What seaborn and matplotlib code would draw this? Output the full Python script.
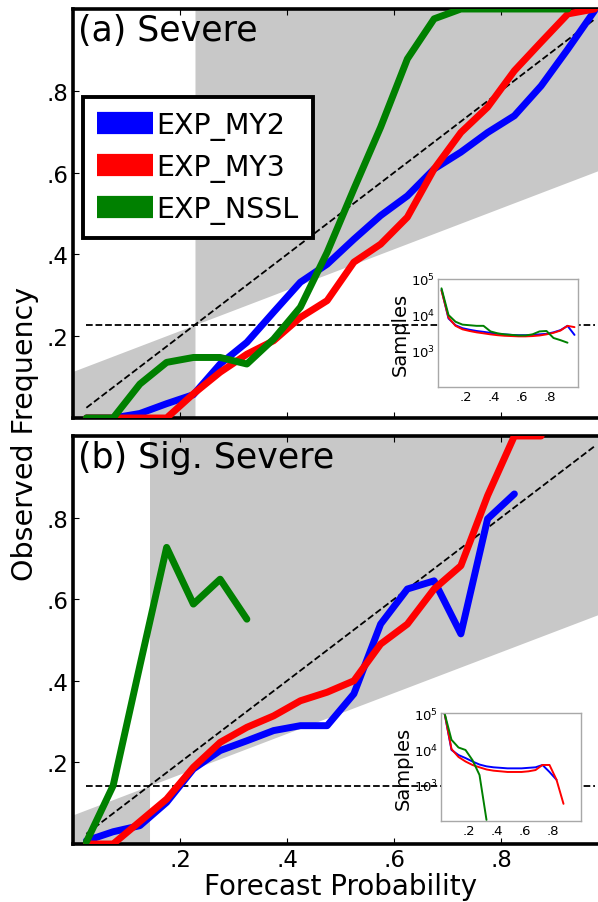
import matplotlib
matplotlib.use("Agg")
import matplotlib.pyplot as plt
import seaborn as sns
import pandas as pd
import numpy as np

# forecast probability bin centres
prob = [0.025, 0.075, 0.125, 0.175, 0.225, 0.275, 0.325, 0.375, 0.425, 0.475,
        0.525, 0.575, 0.625, 0.675, 0.725, 0.775, 0.825, 0.875, 0.925, 0.975]

exp_names = ['EXP_MY2', 'EXP_MY3', 'EXP_NSSL']
exp_colors = ['#0000ff', '#ff0000', '#008000']

# (a) Severe - observed frequency
sev_my2 = [0.0, 0.0, 0.011, 0.035, 0.057, 0.132, 0.185, 0.259, 0.332, 0.376,
           0.437, 0.495, 0.543, 0.609, 0.65, 0.698, 0.739, 0.812, 0.902, 0.996]
sev_my3 = [0.0, 0.0, 0.0, 0.0, 0.059, 0.112, 0.156, 0.189, 0.246, 0.287,
           0.381, 0.425, 0.491, 0.609, 0.698, 0.76, 0.849, 0.919, 0.988, 1.0]
sev_nssl = [0.0, 0.0, 0.083, 0.136, 0.148, 0.148, 0.132, 0.193, 0.271, 0.405,
            0.56, 0.711, 0.878, 0.976, 1.0, 1.0, 1.0, 1.0, 1.0]
sev_clim = 0.228

# (a) Severe - sample counts
sev_n_my2 = [50000, 8000, 5200, 4300, 3900, 3600, 3400, 3200, 3000, 2900,
             2800, 2750, 2750, 2800, 2900, 3000, 3300, 3800, 5000, 2800]
sev_n_my3 = [48000, 8500, 5000, 4000, 3600, 3300, 3100, 2900, 2750, 2650,
             2600, 2550, 2550, 2600, 2700, 2900, 3200, 3700, 5000, 4600]
sev_n_nssl = [55000, 10000, 6500, 5400, 5200, 5000, 5000, 3500, 3100, 2900,
              2800, 2700, 2700, 2900, 3500, 3600, 2300, 2000, 1700]

# (b) Sig. Severe - observed frequency
sig_my2 = [0.008, 0.03, 0.045, 0.102, 0.184, 0.229, 0.253, 0.278, 0.29, 0.29,
           0.368, 0.539, 0.625, 0.645, 0.515, 0.797, 0.858]
sig_my3 = [0.0, 0.0, 0.055, 0.110, 0.188, 0.249, 0.286, 0.314, 0.351, 0.372,
           0.40, 0.49, 0.539, 0.625, 0.682, 0.854, 1.0, 1.0]
sig_nssl = [0.005, 0.143, 0.437, 0.727, 0.588, 0.649, 0.551]
sig_clim = 0.143

# (b) Sig. Severe - sample counts
sig_n_my2 = [100000, 9400, 6800, 5600, 4500, 3700, 3300, 3100, 3000, 2900,
             2900, 2900, 3000, 3100, 3600, 2300, 1400]
sig_n_my3 = [100000, 10000, 6000, 4500, 3600, 3100, 2700, 2500, 2400, 2300,
             2300, 2300, 2400, 2600, 3600, 3600, 1400, 300]
sig_n_nssl = [100000, 18000, 11000, 9400, 4900, 1900, 107]

xticks = [0.2, 0.4, 0.6, 0.8]
xticklabels = ['.2', '.4', '.6', '.8']


def long_df(series, col):
    rows = []
    for name, vals in zip(exp_names, series):
        for p, v in zip(prob, vals):
            rows.append((name, p, v))
    return pd.DataFrame(rows, columns=['exp', 'prob', col])


sns.set_style('ticks')
plt.rcParams['font.family'] = ['DejaVu Sans']
plt.rcParams['mathtext.default'] = 'regular'
plt.rcParams['text.color'] = 'black'
plt.rcParams['axes.labelcolor'] = 'black'
plt.rcParams['xtick.color'] = 'black'
plt.rcParams['ytick.color'] = 'black'

fig = plt.figure(figsize=(5.98, 9.03), dpi=100)


def panel(rect, title, clim, rel, counts, inset_rect, show_legend, show_xlabels):
    ax = fig.add_axes(rect)
    # skill region shading
    xl = np.array([0, clim])
    xr = np.array([clim, 1])
    ax.fill_between(xl, 0, (xl + clim) / 2, color='#c8c8c8', lw=0, zorder=0)
    ax.fill_between(xr, (xr + clim) / 2, 1, color='#c8c8c8', lw=0, zorder=0)
    # perfect reliability and climatology
    ax.plot([0.025, 0.975], [0.025, 0.975], ls='--', color='black', lw=1.3, zorder=1)
    ax.plot([0.025, 0.975], [clim, clim], ls='--', color='black', lw=1.3, zorder=1)

    df = long_df(rel, 'freq')
    sns.lineplot(data=df, x='prob', y='freq', hue='exp', hue_order=exp_names,
                 palette=exp_colors, lw=5, ax=ax, legend=show_legend,
                 estimator=None, sort=False, zorder=3)
    ax.set_xlim(0, 1)
    ax.set_ylim(0, 1)
    ax.set_xlabel('')
    ax.set_ylabel('')
    ax.set_xticks(xticks)
    ax.set_yticks(xticks)
    ax.set_yticklabels(xticklabels, fontsize=16.5)
    if show_xlabels:
        ax.set_xticklabels(xticklabels, fontsize=16.5)
    else:
        ax.set_xticklabels([])
    ax.tick_params(direction='in', top=True, right=True, length=4, width=0.8, pad=3)
    for s in ax.spines.values():
        s.set_linewidth(2.6)
        s.set_color('black')
        s.set_visible(True)
    ax.text(0.009, 0.99, title, transform=ax.transAxes, ha='left', va='top',
            fontsize=25, zorder=5)

    if show_legend:
        leg = ax.legend(loc='upper left', bbox_to_anchor=(0.019, 0.785),
                        borderaxespad=0, fontsize=20.5, frameon=True,
                        fancybox=False, edgecolor='black', framealpha=1,
                        handlelength=1.95, handletextpad=0.12,
                        labelspacing=0.45, borderpad=0.5)
        leg.get_frame().set_linewidth(2.8)
        for line in leg.get_lines():
            line.set_linewidth(16)
            line.set_solid_capstyle('butt')
        leg.set_zorder(6)

    # inset with sample counts
    axi = fig.add_axes(inset_rect)
    dfn = long_df(counts, 'n')
    sns.lineplot(data=dfn, x='prob', y='n', hue='exp', hue_order=exp_names,
                 palette=exp_colors, lw=1.4, ax=axi, legend=False,
                 estimator=None, sort=False)
    axi.set_yscale('log')
    axi.set_xlim(0, 1)
    axi.set_ylim(100, 100000)
    axi.set_xticks(xticks)
    axi.set_xticklabels(xticklabels, fontsize=9.5)
    axi.set_yticks([1000, 10000, 100000])
    axi.set_yticklabels(['$10^3$', '$10^4$', '$10^5$'], fontsize=9.5)
    axi.minorticks_off()
    axi.tick_params(length=0, pad=2)
    axi.set_xlabel('')
    axi.set_ylabel('Samples', fontsize=14, labelpad=1)
    for s in axi.spines.values():
        s.set_color('#a8a8a8')
        s.set_linewidth(1)
    return ax


panel([73 / 598, 1 - 419 / 903, 535 / 598, 409 / 903], '(a) Severe', sev_clim,
      [sev_my2, sev_my3, sev_nssl], [sev_n_my2, sev_n_my3, sev_n_nssl],
      [438 / 598, 1 - 388 / 903, 140 / 598, 108 / 903], True, False)
panel([73 / 598, 1 - 845 / 903, 535 / 598, 408 / 903], '(b) Sig. Severe', sig_clim,
      [sig_my2, sig_my3, sig_nssl], [sig_n_my2, sig_n_my3, sig_n_nssl],
      [441 / 598, 1 - 822 / 903, 140 / 598, 108 / 903], False, True)

fig.text(0.042, 0.52, 'Observed Frequency', rotation=90, ha='center', va='center',
         fontsize=20.5)
fig.text(0.569, 0.002, 'Forecast Probability', ha='center', va='bottom',
         fontsize=20)

fig.savefig('out.png', dpi=100)
